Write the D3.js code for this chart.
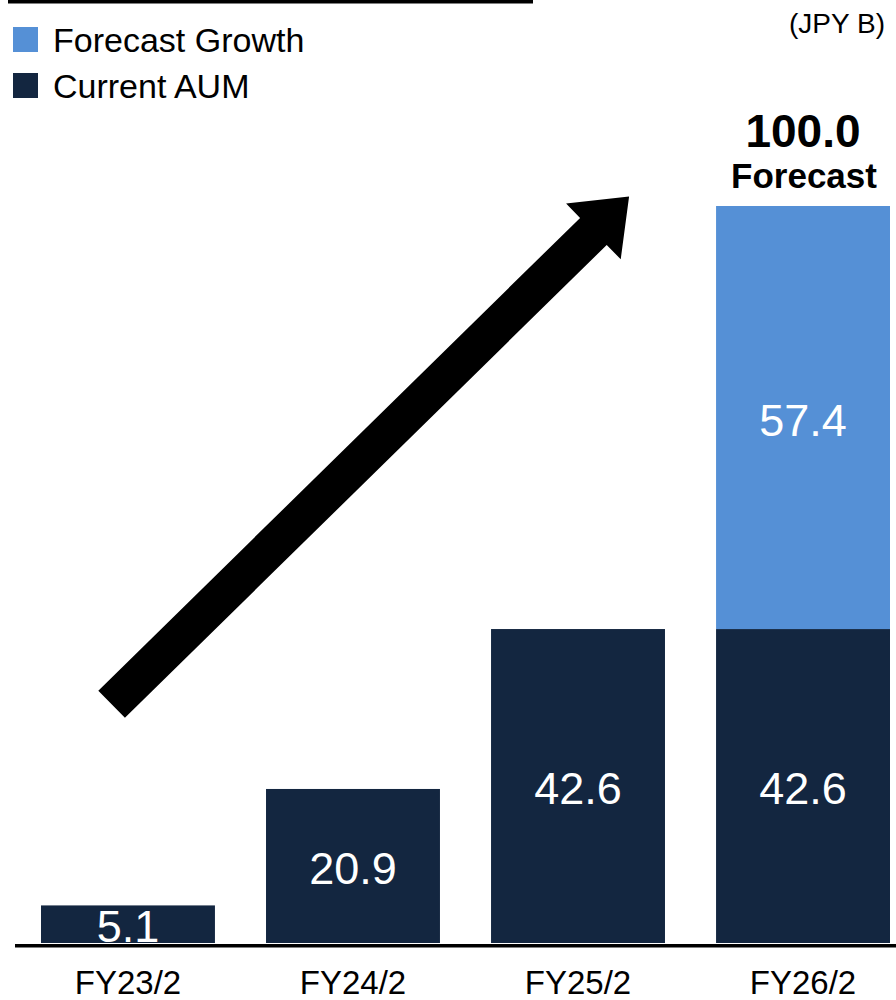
<!DOCTYPE html>
<html>
<head>
  <meta charset="utf-8">
  <title>AUM Forecast</title>
  <script src="https://cdn.jsdelivr.net/npm/d3@7"></script>
  <style>
    body { margin: 0; background: #fff; }
    svg { display: block; font-family: "Liberation Sans", Arial, sans-serif; }
  </style>
</head>
<body>
  <script>
    // chart data
    var categories = ["FY23/2", "FY24/2", "FY25/2", "FY26/2"];
    var currentAUM = [5.1, 20.9, 42.6, 42.6];
    var forecastGrowth = [0, 0, 0, 57.4];
    var totalLabel = "100.0";
    var seriesNames = ["Forecast Growth", "Current AUM"];
    var colors = { "Forecast Growth": "#5590d6", "Current AUM": "#132640" };

    var W = 896, H = 1000;
    var svg = d3.select("body").append("svg")
      .attr("width", W).attr("height", H);

    // scales
    var x = d3.scaleBand().domain(categories)
      .range([41, 890]).paddingInner(0.227).paddingOuter(0);
    var y = d3.scaleLinear().domain([0, 100]).range([943, 206]);

    // thick rule at the very top (underline of a cut off heading)
    svg.append("rect").attr("x", 8).attr("y", 0)
      .attr("width", 525).attr("height", 3.5).attr("fill", "#000");

    // stacked bars
    var rows = categories.map(function (c, i) {
      return { cat: c, cur: currentAUM[i], fc: forecastGrowth[i] };
    });

    svg.selectAll("rect.cur").data(rows).enter().append("rect")
      .attr("class", "cur")
      .attr("x", function (d) { return x(d.cat); })
      .attr("width", x.bandwidth())
      .attr("y", function (d) { return y(d.cur); })
      .attr("height", function (d) { return y(0) - y(d.cur); })
      .attr("fill", colors["Current AUM"]);

    svg.selectAll("rect.fc").data(rows.filter(function (d) { return d.fc > 0; }))
      .enter().append("rect")
      .attr("class", "fc")
      .attr("x", function (d) { return x(d.cat); })
      .attr("width", x.bandwidth())
      .attr("y", function (d) { return y(d.cur + d.fc); })
      .attr("height", function (d) { return y(d.cur) - y(d.cur + d.fc); })
      .attr("fill", colors["Forecast Growth"]);

    // value labels inside bars
    svg.selectAll("text.curlbl").data(rows).enter().append("text")
      .attr("x", function (d) { return x(d.cat) + x.bandwidth() / 2; })
      .attr("y", function (d) { return (y(0) + y(d.cur)) / 2 + 18; })
      .attr("text-anchor", "middle")
      .attr("font-size", 45).attr("fill", "#fff")
      .text(function (d) { return d.cur.toFixed(1); });

    svg.selectAll("text.fclbl").data(rows.filter(function (d) { return d.fc > 0; }))
      .enter().append("text")
      .attr("x", function (d) { return x(d.cat) + x.bandwidth() / 2; })
      .attr("y", function (d) { return (y(d.cur) + y(d.cur + d.fc)) / 2 + 18; })
      .attr("text-anchor", "middle")
      .attr("font-size", 45).attr("fill", "#fff")
      .text(function (d) { return d.fc.toFixed(1); });

    // total + "Forecast" above the last bar
    var last = rows[rows.length - 1];
    var cx = x(last.cat) + x.bandwidth() / 2;
    svg.append("text").attr("x", cx).attr("y", y(last.cur + last.fc) - 59)
      .attr("text-anchor", "middle").attr("font-weight", "bold")
      .attr("font-size", 46).text(totalLabel);
    svg.append("text").attr("x", cx + 1).attr("y", y(last.cur + last.fc) - 18)
      .attr("text-anchor", "middle").attr("font-weight", "bold")
      .attr("font-size", 35).text("Forecast");

    // baseline + category labels
    svg.append("rect").attr("x", 15).attr("y", y(0) + 1)
      .attr("width", W - 15).attr("height", 3.5).attr("fill", "#000");

    svg.selectAll("text.tick").data(categories).enter().append("text")
      .attr("x", function (d) { return x(d) + x.bandwidth() / 2; })
      .attr("y", 994)
      .attr("text-anchor", "middle").attr("font-size", 33)
      .text(function (d) { return d; });

    // unit
    svg.append("text").attr("x", 885).attr("y", 33)
      .attr("text-anchor", "end").attr("font-size", 28).text("(JPY B)");

    // legend
    var lg = svg.selectAll("g.lg").data(seriesNames).enter().append("g")
      .attr("transform", function (d, i) { return "translate(13," + (27 + i * 46) + ")"; });
    lg.append("rect").attr("width", 25).attr("height", 25)
      .attr("fill", function (d) { return colors[d]; });
    lg.append("text").attr("x", 40).attr("y", 25)
      .attr("font-size", 34).text(function (d) { return d; });

    // growth arrow, placed in data terms (category position + value)
    function px(cat, frac) { return x(cat) + frac * x.bandwidth(); }
    var tail = [px("FY23/2", 0.406), y(32.4)];
    var tip = [px("FY26/2", -0.50), y(101.3)];
    var dx = tip[0] - tail[0], dy = tip[1] - tail[1];
    var len = Math.sqrt(dx * dx + dy * dy);
    var ux = dx / len, uy = dy / len, nx = -uy, ny = ux;
    var sw = 19, hw = 39, hl = 50;
    var bx = tip[0] - ux * hl, by = tip[1] - uy * hl;
    var pts = [
      [tail[0] + nx * sw, tail[1] + ny * sw],
      [bx + nx * sw, by + ny * sw],
      [bx + nx * hw, by + ny * hw],
      tip,
      [bx - nx * hw, by - ny * hw],
      [bx - nx * sw, by - ny * sw],
      [tail[0] - nx * sw, tail[1] - ny * sw]
    ];
    svg.append("path")
      .attr("d", d3.line()(pts) + "Z")
      .attr("fill", "#000");
  </script>
</body>
</html>
